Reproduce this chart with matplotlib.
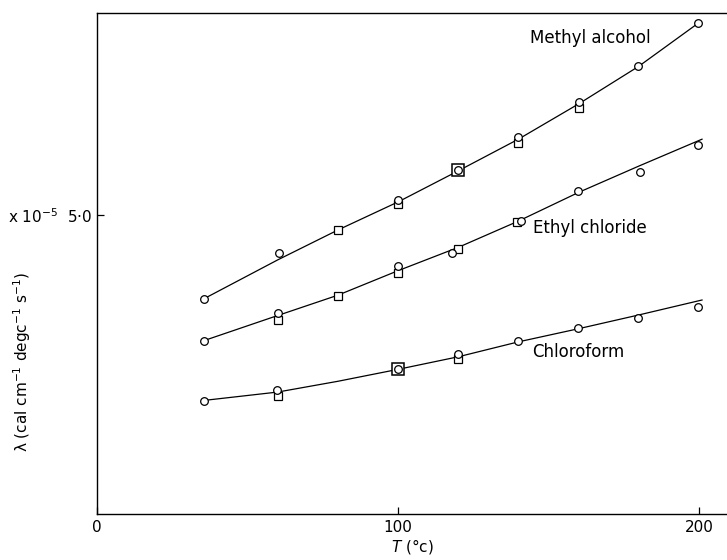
import numpy as np
import matplotlib.pyplot as plt

# methyl alcohol
meth_circ_x = [35.5, 60.5, 100, 140, 160, 179.6, 199.6]
meth_circ_y = [3.60, 4.37, 5.25, 6.30, 6.90, 7.49, 8.22]
meth_sq_x = [80, 100, 140, 160]
meth_sq_y = [4.75, 5.18, 6.21, 6.80]
meth_both_x = [120]
meth_both_y = [5.75]
meth_curve_x = [35.5, 60, 80, 100, 120, 140, 160, 180, 200]
meth_curve_y = [3.60, 4.25, 4.75, 5.22, 5.74, 6.27, 6.86, 7.49, 8.22]

# ethyl chloride
eth_circ_x = [35.5, 60, 100, 118, 140.9, 159.9, 180.4, 199.6]
eth_circ_y = [2.90, 3.36, 4.15, 4.37, 4.90, 5.40, 5.72, 6.17]
eth_sq_x = [60, 80, 100, 119.8, 139.4]
eth_sq_y = [3.24, 3.65, 4.03, 4.43, 4.88]
eth_curve_x = [35.5, 60, 80, 100, 120, 140, 160, 180, 201]
eth_curve_y = [2.90, 3.32, 3.66, 4.07, 4.46, 4.90, 5.38, 5.82, 6.27]

# chloroform
chl_circ_x = [35.5, 59.7, 119.8, 139.8, 159.7, 179.6, 199.6]
chl_circ_y = [1.89, 2.07, 2.68, 2.89, 3.12, 3.28, 3.47]
chl_sq_x = [60, 120]
chl_sq_y = [1.98, 2.59]
chl_both_x = [100]
chl_both_y = [2.42]
chl_curve_x = [35.5, 60, 80, 100, 120, 140, 160, 180, 201]
chl_curve_y = [1.90, 2.04, 2.22, 2.42, 2.63, 2.88, 3.10, 3.33, 3.58]

labels = ["Methyl alcohol", "Ethyl chloride", "Chloroform"]
label_x = [143.9, 144.7, 144.4]
label_y = [7.96, 4.78, 2.71]

fig = plt.figure(figsize=(7.27, 5.60), dpi=100)
ax = fig.add_axes([0.1334, 0.0821, 0.8666, 0.8946])

for cx, cy in [(meth_curve_x, meth_curve_y), (eth_curve_x, eth_curve_y), (chl_curve_x, chl_curve_y)]:
    ax.plot(cx, cy, color="black", lw=0.9, zorder=2)

circ = dict(ls="none", marker="o", ms=5.5, mfc="white", mec="black", mew=0.9, zorder=3)
sq = dict(ls="none", marker="s", ms=5.2, mfc="white", mec="black", mew=0.9, zorder=3)
bigsq = dict(ls="none", marker="s", ms=9, mfc="white", mec="black", mew=1.1, zorder=3)

for x, y in [(meth_sq_x, meth_sq_y), (eth_sq_x, eth_sq_y), (chl_sq_x, chl_sq_y)]:
    ax.plot(x, y, **sq)
for x, y in [(meth_circ_x, meth_circ_y), (eth_circ_x, eth_circ_y), (chl_circ_x, chl_circ_y)]:
    ax.plot(x, y, **circ)
for x, y in [(meth_both_x, meth_both_y), (chl_both_x, chl_both_y)]:
    ax.plot(x, y, **bigsq)
    ax.plot(x, y, **circ)

for t, x, y in zip(labels, label_x, label_y):
    ax.text(x, y, t, fontsize=12, va="center", ha="left")

ax.set_xlim(0, 209.3)
ax.set_ylim(0, 8.38)
ax.set_xticks([0, 100, 200])
ax.set_xticklabels(["0", "100", "200"])
ax.set_yticks([5.0])
ax.set_yticklabels([r"x 10$^{-5}$  5·0"])
ax.tick_params(direction="in", labelsize=11, length=5, width=0.9)
ax.tick_params(axis="x", pad=4)
ax.spines["right"].set_visible(False)
for s in ["left", "bottom", "top"]:
    ax.spines[s].set_linewidth(1.0)

ax.set_xlabel(r"$T$ (°c)", fontsize=11, labelpad=2)
fig.text(0.031, 0.354, r"λ (cal cm$^{-1}$ degc$^{-1}$ s$^{-1}$)",
         rotation=90, fontsize=11, ha="center", va="center")

fig.savefig("out.png", dpi=100)
